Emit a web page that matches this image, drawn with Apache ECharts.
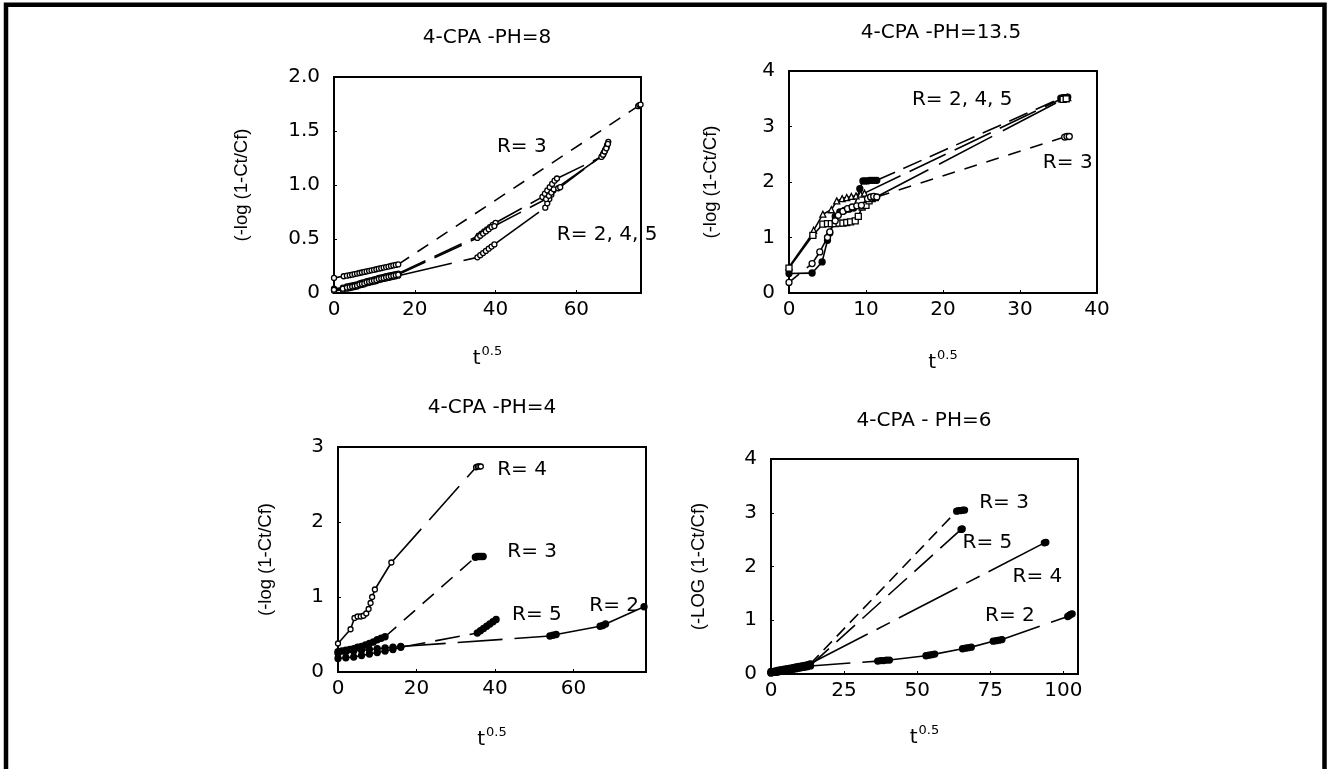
<!DOCTYPE html>
<html><head><meta charset="utf-8">
<script src="https://cdn.jsdelivr.net/npm/echarts@6/dist/echarts.min.js"></script>
<style>html,body{margin:0;padding:0;background:#fff}#c{width:1327px;height:769px}</style>
</head><body><div id="c"></div>
<script>
// ---------------- DATA (x = t^0.5, y = -log(1-Ct/Cf)) ----------------
// Panel 1: 4-CPA pH=8
const pH8_R3 = [[0,0.14],[2.4,0.155],[3.2,0.16],[3.9,0.165],[4.5,0.17],[5.1,0.175],[5.7,0.18],[6.3,0.185],[6.9,0.19],[7.5,0.195],[8.1,0.20],[8.7,0.205],[9.3,0.21],[9.9,0.215],[10.5,0.22],[11.1,0.225],[11.7,0.23],[12.3,0.235],[12.9,0.24],[13.5,0.245],[14.1,0.25],[14.7,0.255],[15.3,0.26],[15.9,0.265],[75.3,1.73],[75.6,1.74],[75.9,1.745]];
const pH8_R2 = [[0,0.02],[2.2,0.03],[3.2,0.04],[3.9,0.045],[4.5,0.05],[5.1,0.055],[5.7,0.06],[6.3,0.07],[6.9,0.075],[7.5,0.08],[8.1,0.09],[8.7,0.095],[9.3,0.10],[9.9,0.105],[10.5,0.11],[11.1,0.12],[11.7,0.125],[12.3,0.13],[12.9,0.135],[13.5,0.14],[14.1,0.145],[14.7,0.15],[15.3,0.155],[15.9,0.16],[35.5,0.33],[36.2,0.35],[36.9,0.37],[37.6,0.39],[38.3,0.41],[39.0,0.43],[39.7,0.45],[52.3,0.79],[52.8,0.83],[53.3,0.87],[53.8,0.91],[54.3,0.95],[66.4,1.27],[66.8,1.30],[67.2,1.33],[67.6,1.37],[67.9,1.40]];
const pH8_R4 = [[0,0.04],[2.2,0.05],[3.2,0.06],[3.9,0.065],[4.5,0.07],[5.1,0.075],[5.7,0.08],[6.3,0.09],[6.9,0.095],[7.5,0.10],[8.1,0.11],[8.7,0.115],[9.3,0.12],[9.9,0.125],[10.5,0.13],[11.1,0.14],[11.7,0.145],[12.3,0.15],[12.9,0.155],[13.5,0.16],[14.1,0.165],[14.7,0.17],[15.3,0.175],[15.9,0.18],[35.8,0.53],[36.5,0.55],[37.2,0.57],[37.9,0.59],[38.6,0.61],[39.3,0.63],[40.0,0.65],[51.6,0.89],[52.2,0.92],[52.8,0.95],[53.4,0.98],[54.0,1.01],[54.6,1.04],[55.2,1.06],[66.2,1.26],[66.7,1.29],[67.1,1.32],[67.5,1.35]];
const pH8_R5 = [[0,0.03],[2.2,0.04],[3.2,0.05],[3.9,0.055],[4.5,0.06],[5.1,0.065],[5.7,0.07],[6.3,0.08],[6.9,0.085],[7.5,0.09],[8.1,0.10],[8.7,0.105],[9.3,0.11],[9.9,0.115],[10.5,0.12],[11.1,0.13],[11.7,0.135],[12.3,0.14],[12.9,0.145],[13.5,0.15],[14.1,0.155],[14.7,0.16],[15.3,0.165],[15.9,0.17],[35.5,0.51],[36.2,0.53],[36.9,0.55],[37.6,0.57],[38.3,0.59],[39.0,0.61],[39.7,0.62],[52.5,0.87],[53.2,0.90],[53.8,0.93],[54.4,0.96],[55.5,0.97],[56.0,0.98],[66.6,1.28],[67.0,1.31],[67.4,1.34],[67.8,1.38]];

// Panel 2: 4-CPA pH=13.5
const pH135_R2 = [[0,0.35],[3.0,0.36],[4.3,0.56],[5.0,0.95],[5.3,1.08],[6.0,1.38],[6.6,1.46],[7.2,1.49],[7.8,1.51],[8.4,1.53],[9.2,1.88],[9.6,2.02],[9.9,2.02],[10.2,2.02],[10.5,2.03],[10.8,2.03],[11.1,2.03],[11.4,2.03],[35.3,3.51],[35.6,3.52],[35.9,3.52],[36.2,3.53]];
const pH135_R4 = [[0,0.47],[3.1,1.08],[3.2,1.13],[4.4,1.42],[5.5,1.50],[6.2,1.66],[6.9,1.70],[7.5,1.72],[8.1,1.74],[8.7,1.75],[9.3,1.78],[9.8,1.80],[35.4,3.50],[35.8,3.51],[36.2,3.52]];
const pH135_R5 = [[0,0.45],[3.1,1.04],[4.4,1.24],[5.0,1.25],[5.5,1.25],[6.0,1.25],[6.5,1.26],[7.0,1.26],[7.5,1.27],[8.0,1.28],[8.6,1.30],[9.0,1.38],[9.5,1.55],[10.0,1.58],[10.4,1.66],[10.8,1.70],[11.2,1.72],[35.6,3.49],[36.0,3.50]];
const pH135_R3 = [[0,0.19],[3.0,0.53],[4.0,0.74],[5.0,1.00],[5.3,1.10],[6.0,1.30],[6.4,1.40],[7.0,1.47],[7.6,1.52],[8.2,1.55],[8.8,1.57],[9.4,1.58],[10.2,1.70],[10.6,1.73],[11.0,1.74],[11.4,1.73],[35.8,2.81],[36.1,2.82],[36.4,2.82]];

// Panel 3: 4-CPA pH=4
const pH4_R4 = [[0,0.38],[3.2,0.57],[4.2,0.72],[5.0,0.74],[5.8,0.74],[6.5,0.75],[7.2,0.78],[7.8,0.84],[8.3,0.92],[8.7,1.00],[9.4,1.10],[13.6,1.46],[35.2,2.73],[35.6,2.74],[36.0,2.74],[36.4,2.74]];
const pH4_R3 = [[0,0.27],[1.0,0.28],[2.0,0.29],[3.0,0.30],[4.0,0.31],[5.0,0.33],[6.0,0.34],[7.0,0.36],[8.0,0.38],[9.0,0.40],[10.0,0.43],[11.0,0.45],[12.0,0.47],[35.0,1.53],[35.5,1.54],[36.0,1.54],[36.5,1.54],[37.0,1.54]];
const pH4_R5 = [[0,0.18],[2,0.19],[4,0.20],[6,0.22],[8,0.24],[10,0.26],[12,0.28],[14,0.30],[16,0.33],[35.5,0.52],[36.3,0.55],[37.1,0.58],[37.9,0.61],[38.7,0.64],[39.5,0.67],[40.3,0.70]];
const pH4_R2 = [[0,0.25],[2,0.27],[4,0.28],[6,0.29],[8,0.30],[10,0.31],[12,0.32],[14,0.33],[16,0.34],[54.0,0.48],[54.8,0.49],[55.6,0.50],[66.8,0.61],[67.5,0.62],[68.2,0.64],[78.0,0.87]];

// Panel 4: 4-CPA pH=6
const pH6_R3 = [[0,0.03],[1.5,0.05],[2.5,0.06],[3.5,0.07],[4.5,0.08],[5.5,0.09],[6.5,0.10],[7.5,0.11],[8.5,0.12],[9.5,0.13],[10.5,0.14],[11.5,0.15],[12.5,0.17],[13.5,0.19],[63.5,3.03],[64.2,3.04],[64.9,3.04],[65.6,3.05],[66.2,3.05]];
const pH6_R5 = [[0,0.02],[1.5,0.03],[2.5,0.04],[3.5,0.05],[4.5,0.06],[5.5,0.07],[6.5,0.08],[7.5,0.09],[8.5,0.10],[9.5,0.11],[10.5,0.12],[11.5,0.13],[12.5,0.14],[13.5,0.16],[65.0,2.69],[65.4,2.70]];
const pH6_R4 = [[0,0.05],[1.5,0.06],[2.5,0.07],[3.5,0.08],[4.5,0.09],[5.5,0.10],[6.5,0.11],[7.5,0.12],[8.5,0.13],[9.5,0.14],[10.5,0.15],[11.5,0.16],[12.5,0.17],[13.0,0.18],[93.5,2.44],[94.0,2.45]];
const pH6_R2 = [[0,0.02],[1.5,0.03],[2.5,0.04],[3.5,0.05],[4.5,0.06],[5.5,0.07],[6.5,0.08],[7.5,0.09],[8.5,0.10],[9.5,0.11],[10.5,0.12],[11.5,0.13],[12.5,0.14],[13.5,0.15],[36.5,0.24],[37.5,0.25],[38.5,0.25],[39.5,0.26],[40.5,0.26],[53,0.34],[54,0.35],[55,0.36],[56,0.37],[65.5,0.47],[66.5,0.48],[67.5,0.49],[68.5,0.50],[76,0.61],[77,0.62],[78,0.63],[79,0.64],[101.5,1.07],[102,1.09],[102.5,1.11],[103,1.12]];

// Titles, axis names, tick labels
const titles = ['4-CPA -PH=8', '4-CPA -PH=13.5', '4-CPA -PH=4', '4-CPA - PH=6'];
const yNames = ['(-log (1-Ct/Cf)', '(-log (1-Ct/Cf)', '(-log (1-Ct/Cf)', '(-LOG (1-Ct/Cf)'];
const yTicks = [['0','0.5','1.0','1.5','2.0'], ['0','1','2','3','4'], ['0','1','2','3'], ['0','1','2','3','4']];
const xTicks = [['0','20','40','60'], ['0','10','20','30','40'], ['0','20','40','60'], ['0','25','50','75','100']];

// Annotation texts with anchor in data coordinates
const notes = [
  [['R= 3', 46.5, 1.35], ['R= 2, 4, 5', 67.6, 0.54]],
  [['R= 2, 4, 5', 22.5, 3.49], ['R= 3', 36.2, 2.34]],
  [['R= 4', 46.9, 2.70], ['R= 3', 49.5, 1.60], ['R= 5', 50.7, 0.76], ['R= 2', 70.4, 0.88]],
  [['R= 3', 79.7, 3.18], ['R= 5', 74.0, 2.44], ['R= 4', 91.1, 1.80], ['R= 2', 81.7, 1.08]]
];

// ---------------- LAYOUT / STYLE ----------------
const FONT = 'DejaVu Sans';
const FS = 20;
const layouts = [
  {left:334, top:77,  width:307, height:216, xMax:76,   xInt:20, yMax:2, yInt:0.5, gapY:83, gapX:52, tx:487, ty:38},
  {left:789, top:71,  width:308, height:222, xMax:40,   xInt:10, yMax:4, yInt:1,   gapY:69, gapX:56, tx:941, ty:33},
  {left:338, top:447, width:308, height:225, xMax:78.5, xInt:20, yMax:3, yInt:1,   gapY:63, gapX:54, tx:492, ty:408},
  {left:771, top:459, width:307, height:215, xMax:105,  xInt:25, yMax:4, yInt:1,   gapY:63, gapX:50, tx:924, ty:421}
];
const seriesSpec = [
  [ {d:pH8_R3, dash:[13,10], sym:'circle', size:5, fill:'#fff'},
    {d:pH8_R2, dash:[55,12], sym:'circle', size:5, fill:'#fff'},
    {d:pH8_R4, dash:[30,10], sym:'circle', size:5, fill:'#fff'},
    {d:pH8_R5, dash:[30,10], sym:'circle', size:5, fill:'#fff'} ],
  [ {d:pH135_R2, dash:[20,9],  sym:'circle',   size:6, fill:'#000'},
    {d:pH135_R4, dash:[40,10], sym:'triangle', size:6, fill:'#fff'},
    {d:pH135_R5, dash:[60,12], sym:'rect',     size:6, fill:'#fff'},
    {d:pH135_R3, dash:[13,10], sym:'circle',   size:6, fill:'#fff'} ],
  [ {d:pH4_R4, dash:[45,12], sym:'circle', size:5, fill:'#fff'},
    {d:pH4_R3, dash:[15,10], sym:'circle', size:6, fill:'#000'},
    {d:pH4_R5, dash:[25,10], sym:'circle', size:6, fill:'#000'},
    {d:pH4_R2, dash:[45,12], sym:'circle', size:6, fill:'#000'} ],
  [ {d:pH6_R3, dash:[12,7],  sym:'circle', size:6, fill:'#000'},
    {d:pH6_R5, dash:[25,10], sym:'circle', size:6, fill:'#000'},
    {d:pH6_R4, dash:[66,10,15,10], sym:'circle', size:6, fill:'#000'},
    {d:pH6_R2, dash:[40,12], sym:'circle', size:6, fill:'#000'} ]
];

function segments(arr) {
  const out = [];
  for (let i = 1; i < arr.length; i++) out.push({coords: [arr[i-1], arr[i]]});
  return out;
}

const grid = [], xAxis = [], yAxis = [], series = [], graphic = [];
layouts.forEach((L, k) => {
  grid.push({left:L.left, top:L.top, width:L.width, height:L.height, show:true, borderColor:'#000', borderWidth:2, backgroundColor:'#fff'});
  xAxis.push({
    type:'value', gridIndex:k, min:0, max:L.xMax, interval:L.xInt,
    axisLine:{show:true, onZero:false, lineStyle:{color:'#000', width:2}},
    axisTick:{show:true, inside:true, length:3, lineStyle:{color:'#000'}},
    splitLine:{show:false},
    axisLabel:{show:true, showMaxLabel: L.xMax % L.xInt === 0, margin:7, color:'#000', fontFamily:FONT, fontSize:FS,
      formatter: v => xTicks[k][Math.round(v / L.xInt)] ?? ''},
    name:'{t|t}{s|0.5}', nameLocation:'middle', nameGap:L.gapX,
    nameTextStyle:{color:'#000', fontFamily:FONT, rich:{
      t:{fontFamily:FONT, fontSize:FS, lineHeight:24, color:'#000', verticalAlign:'bottom'},
      s:{fontFamily:FONT, fontSize:13, lineHeight:24, color:'#000', verticalAlign:'top', padding:[0,0,0,1]}}}
  });
  yAxis.push({
    type:'value', gridIndex:k, min:0, max:L.yMax, interval:L.yInt,
    axisLine:{show:true, onZero:false, lineStyle:{color:'#000', width:2}},
    axisTick:{show:true, inside:true, length:3, lineStyle:{color:'#000'}},
    splitLine:{show:false},
    axisLabel:{margin:14, color:'#000', fontFamily:FONT, fontSize:FS,
      formatter: v => yTicks[k][Math.round(v / L.yInt)] ?? ''},
    name:yNames[k], nameLocation:'middle', nameGap:L.gapY,
    nameTextStyle:{color:'#000', fontFamily:'Liberation Sans', fontSize:18.5}
  });
  seriesSpec[k].forEach(s => {
    series.push({type:'lines', coordinateSystem:'cartesian2d', xAxisIndex:k, yAxisIndex:k,
      polyline:false, silent:true, z:2, animation:false, data:segments(s.d),
      lineStyle:{color:'#000', width:1.6, opacity:1, type:s.dash, curveness:0}});
  });
  seriesSpec[k].forEach(s => {
    series.push({type:'scatter', xAxisIndex:k, yAxisIndex:k, silent:true, z:3, animation:false,
      data:s.d, symbol:s.sym, symbolSize:s.size,
      itemStyle:{color:s.fill, borderColor:'#000', borderWidth:1.3, opacity:1}});
  });
  series.push({type:'scatter', xAxisIndex:k, yAxisIndex:k, silent:true, z:4, animation:false, clip:false,
    data:notes[k].map(n => ({value:[n[1], n[2]], name:n[0]})),
    symbolSize:0, itemStyle:{color:'#000', opacity:1},
    label:{show:true, position:[0,0], align:'center', verticalAlign:'middle', formatter:p => p.name,
      color:'#000', opacity:1, textBorderWidth:0, fontFamily:FONT, fontSize:FS}});
  graphic.push({type:'text', x:L.tx, y:L.ty, silent:true,
    style:{text:titles[k], fill:'#000', font:FS + 'px "' + FONT + '"', align:'center', verticalAlign:'middle'}});
});
graphic.push({type:'polyline', silent:true, shape:{points:[[6,769],[6,4.7],[1324.5,4.7],[1324.5,769]]},
  style:{stroke:'#000', lineWidth:4.5, fill:null}});

const chart = echarts.init(document.getElementById('c'), null, {renderer:'canvas'});
chart.setOption({backgroundColor:'#fff', animation:false, grid, xAxis, yAxis, series, graphic});
</script>
</body></html>
